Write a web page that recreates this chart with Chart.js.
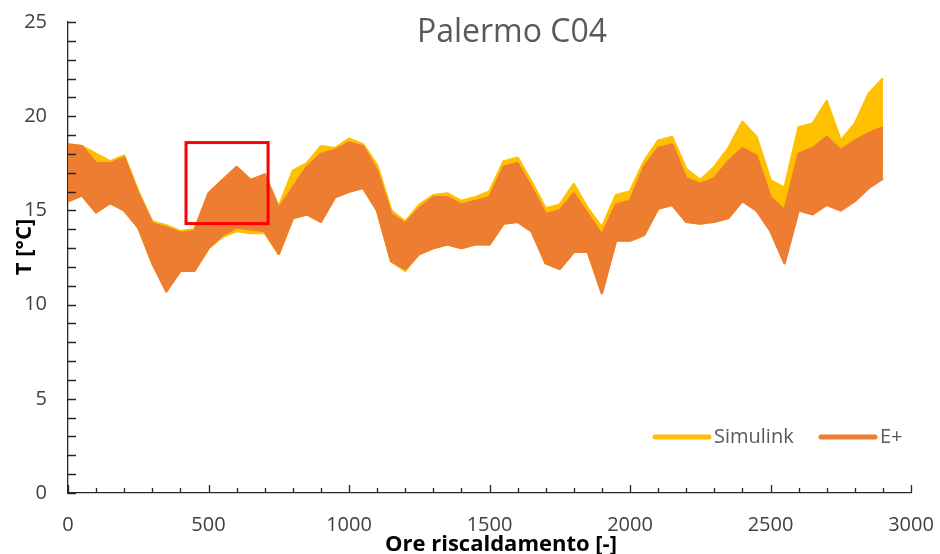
<!DOCTYPE html>
<html>
<head>
<meta charset="utf-8">
<script src="https://cdn.jsdelivr.net/npm/chart.js@4/dist/chart.umd.min.js"></script>
<style>
  body { margin: 0; background: #fff; }
  #wrap { width: 940px; height: 554px; position: relative; }
</style>
</head>
<body>
<div id="wrap"><canvas id="chart"></canvas></div>
<script>
const hours = [0, 50, 100, 150, 200, 250, 300, 350, 400, 450, 500, 550, 600, 650, 700, 750, 800, 850, 900, 950,
  1000, 1050, 1100, 1150, 1200, 1250, 1300, 1350, 1400, 1450, 1500, 1550, 1600, 1650, 1700, 1750, 1800, 1850, 1900, 1950,
  2000, 2050, 2100, 2150, 2200, 2250, 2300, 2350, 2400, 2450, 2500, 2550, 2600, 2650, 2700, 2750, 2800, 2850, 2900];

const simulinkHigh = [18.5, 18.4, 18.0, 17.6, 17.9, 16.0, 14.4, 14.2, 13.9, 14.0, 15.9, 16.6, 17.3, 16.6, 16.9, 15.2, 17.1, 17.5, 18.4, 18.3,
  18.8, 18.5, 17.4, 15.0, 14.4, 15.3, 15.8, 15.9, 15.5, 15.7, 16.0, 17.6, 17.8, 16.5, 15.1, 15.3, 16.4, 15.1, 14.1, 15.8,
  16.0, 17.6, 18.7, 18.9, 17.2, 16.6, 17.3, 18.3, 19.7, 18.9, 16.6, 16.2, 19.4, 19.6, 20.8, 18.7, 19.6, 21.2, 22.0];
const simulinkLow = [15.5, 15.8, 14.9, 15.4, 15.0, 14.1, 12.2, 10.8, 11.8, 11.8, 13.0, 13.6, 13.9, 13.8, 13.8, 12.7, 14.6, 14.8, 14.4, 15.7,
  16.0, 16.2, 15.0, 12.3, 11.8, 12.7, 13.0, 13.2, 13.0, 13.2, 13.2, 14.3, 14.4, 13.9, 12.2, 11.9, 12.8, 12.8, 10.7, 13.4,
  13.4, 13.7, 15.1, 15.3, 14.4, 14.3, 14.5, 14.8, 15.8, 15.4, 14.2, 12.4, 15.5, 15.3, 15.9, 15.5, 16.0, 16.8, 17.3];

const ePlusHigh = [18.5, 18.4, 17.5, 17.5, 17.8, 15.9, 14.3, 14.1, 13.8, 13.9, 15.9, 16.6, 17.3, 16.6, 16.9, 15.1, 16.2, 17.3, 18.0, 18.2,
  18.6, 18.4, 17.1, 14.8, 14.3, 15.1, 15.7, 15.7, 15.3, 15.5, 15.7, 17.3, 17.5, 16.2, 14.8, 15.0, 15.9, 14.8, 13.7, 15.3,
  15.5, 17.3, 18.3, 18.5, 16.7, 16.4, 16.7, 17.6, 18.3, 17.9, 15.7, 15.0, 18.0, 18.3, 18.9, 18.2, 18.7, 19.1, 19.4];
const ePlusLow = [15.5, 15.8, 14.9, 15.4, 15.0, 14.1, 12.2, 10.7, 11.8, 11.8, 13.0, 13.7, 14.1, 14.0, 13.9, 12.7, 14.6, 14.8, 14.4, 15.7,
  16.0, 16.2, 15.0, 12.3, 11.9, 12.7, 13.0, 13.2, 13.0, 13.2, 13.2, 14.3, 14.4, 13.9, 12.2, 11.9, 12.8, 12.8, 10.6, 13.4,
  13.4, 13.7, 15.1, 15.3, 14.4, 14.3, 14.4, 14.6, 15.5, 15.0, 13.9, 12.2, 15.0, 14.8, 15.3, 15.0, 15.5, 16.2, 16.7];

const xTicks = [0, 500, 1000, 1500, 2000, 2500, 3000];
const yTicks = [0, 5, 10, 15, 20, 25];
const seriesNames = ['Simulink', 'E+'];
const seriesColors = ['#FFC000', '#ED7D31'];
// highlighted window: [x from, x to, y from, y to]
const highlightBox = [420, 712, 14.3, 18.6];

const toPoints = vals => vals.map((v, i) => ({ x: hours[i], y: v }));
const band = (vals, color, order, fill) => ({
  data: toPoints(vals),
  borderColor: color,
  backgroundColor: color,
  borderWidth: 2.5,
  borderJoinStyle: 'round',
  pointRadius: 0,
  tension: 0,
  order: order,
  fill: fill
});

const extras = {
  id: 'extras',
  afterDraw(chart) {
    const ctx = chart.ctx;
    const xs = chart.scales.x, ys = chart.scales.y;
    const area = chart.chartArea;
    ctx.save();
    // inner tick marks
    ctx.strokeStyle = '#262626';
    ctx.lineWidth = 1.3;
    ctx.beginPath();
    for (let v = 0; v <= 3000; v += 100) {
      const px = Math.round(xs.getPixelForValue(v)) + 0.5;
      ctx.moveTo(px, area.bottom);
      ctx.lineTo(px, area.bottom - (v % 500 === 0 ? 8 : 5));
    }
    for (let v = 0; v <= 25; v += 1) {
      const py = Math.round(ys.getPixelForValue(v)) + 0.5;
      ctx.moveTo(area.left, py);
      ctx.lineTo(area.left + 8, py);
    }
    ctx.stroke();

    // red box
    ctx.strokeStyle = '#FF0000';
    ctx.lineWidth = 3;
    const x1 = xs.getPixelForValue(highlightBox[0]), x2 = xs.getPixelForValue(highlightBox[1]);
    const y1 = ys.getPixelForValue(highlightBox[3]), y2 = ys.getPixelForValue(highlightBox[2]);
    ctx.strokeRect(x1, y1, x2 - x1, y2 - y1);

    // title
    ctx.fillStyle = '#595959';
    ctx.font = '32px "Open Sans"';
    ctx.textAlign = 'center';
    ctx.textBaseline = 'middle';
    ctx.fillText('Palermo C04', 512, 33);

    // axis titles
    ctx.fillStyle = '#000';
    ctx.font = 'bold 22px "Open Sans"';
    ctx.fillText('Ore riscaldamento [-]', 501, 545);
    ctx.save();
    ctx.translate(25, 247);
    ctx.rotate(-Math.PI / 2);
    ctx.fillText('T [°C]', 0, 0);
    ctx.restore();

    // legend inside plot
    ctx.font = '20px "Open Sans"';
    ctx.textAlign = 'left';
    ctx.lineCap = 'round';
    ctx.lineWidth = 5;
    const legendX = [655, 821];
    seriesNames.forEach((name, i) => {
      ctx.strokeStyle = seriesColors[i];
      ctx.beginPath();
      ctx.moveTo(legendX[i], 437);
      ctx.lineTo(legendX[i] + 54, 437);
      ctx.stroke();
      ctx.fillStyle = '#595959';
      ctx.fillText(name, legendX[i] + 59, 437);
    });
    ctx.restore();
  }
};

const noPad = s => { s.paddingTop = 0; s.paddingBottom = 0; s.paddingLeft = 0; s.paddingRight = 0; };

new Chart(document.getElementById('chart'), {
  type: 'line',
  data: {
    datasets: [
      band(simulinkHigh, seriesColors[0], 2, false),
      band(simulinkLow, seriesColors[0], 2, '-1'),
      band(ePlusHigh, seriesColors[1], 1, false),
      band(ePlusLow, seriesColors[1], 1, '-1')
    ]
  },
  options: {
    responsive: true,
    maintainAspectRatio: false,
    animation: false,
    layout: { padding: { top: 22, right: 29, left: 0, bottom: 0 } },
    plugins: {
      legend: { display: false },
      tooltip: { enabled: false },
      title: { display: false }
    },
    scales: {
      x: {
        type: 'linear',
        min: 0,
        max: 3000,
        afterFit: s => { s.height = 61; noPad(s); },
        afterBuildTicks: s => { s.ticks = xTicks.map(v => ({ value: v })); },
        grid: { display: false, drawTicks: false },
        border: { display: true, color: '#262626', width: 1.3 },
        ticks: {
          padding: 20,
          maxRotation: 0,
          color: '#404040',
          font: { family: 'Open Sans', size: 20 },
          callback: v => String(v)
        }
      },
      y: {
        min: 0,
        max: 25,
        afterFit: s => { s.width = 68; noPad(s); },
        afterBuildTicks: s => { s.ticks = yTicks.map(v => ({ value: v })); },
        grid: { display: false, drawTicks: false },
        border: { display: true, color: '#262626', width: 1.3 },
        ticks: {
          padding: 21,
          color: '#404040',
          font: { family: 'Open Sans', size: 20 }
        }
      }
    }
  },
  plugins: [extras]
});
</script>
</body>
</html>
